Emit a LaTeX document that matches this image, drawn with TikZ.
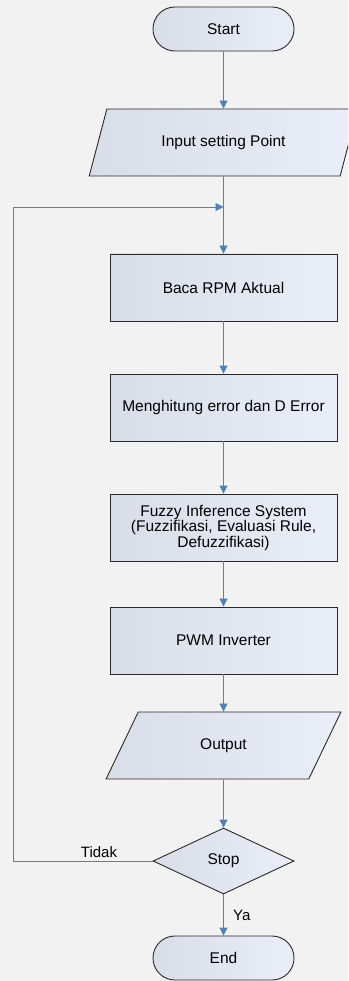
\documentclass[tikz,border=0pt]{standalone}
\usepackage{fontspec}
\setmainfont{Liberation Sans}
\usetikzlibrary{shapes.geometric,arrows.meta}
\definecolor{pagebg}{HTML}{F2F2F2}
\definecolor{fillL}{HTML}{D8DDE7}
\definecolor{fillR}{HTML}{E9EEF8}
\definecolor{flowblue}{HTML}{4F81BD}
\definecolor{edge}{HTML}{2A2A2A}
\tikzset{
  shapebase/.style={draw=edge, line width=0.9pt, left color=fillL, right color=fillR,
    font=\fontsize{15.5}{15.5}\selectfont, text=black, inner sep=0pt, align=center},
  terminal/.style={shapebase, rectangle, rounded corners=21.9pt, minimum width=141pt, minimum height=44pt},
  procbox/.style={shapebase, rectangle, minimum width=227pt, minimum height=67pt},
  iobox/.style={shapebase, trapezium, trapezium stretches=true, minimum height=67pt},
  decision/.style={shapebase, diamond, minimum width=141pt, minimum height=66pt},
  flow/.style={draw=flowblue, line width=0.9pt, -{Triangle[width=8pt,length=8pt]}},
  lbl/.style={font=\fontsize{15}{15}\selectfont, text=black, inner sep=0pt}
}
\begin{document}
\begin{tikzpicture}[x=1pt,y=-1pt]
\useasboundingbox (0,0) rectangle (348,981);
\clip (0,0) rectangle (348,981);
\fill[pagebg] (0,0) rectangle (348,981);

% flowchart blocks
\node[terminal] (start) at (223.5,29) {Start};
\node[iobox, trapezium left angle=57, trapezium right angle=123, minimum width=269pt] (input) at (223.5,142.5) {Input setting Point};
\node[procbox] (baca) at (223.5,287.5) {Baca RPM Aktual};
\node[procbox] (hitung) at (223.5,407.5) {Menghitung error dan D Error};
\node[procbox] (fis) at (223.5,527.5) {Fuzzy Inference System\\(Fuzzifikasi, Evaluasi Rule,\\Defuzzifikasi)};
\node[procbox] (pwm) at (223.5,640.5) {PWM Inverter};
\node[iobox, trapezium left angle=58, trapezium right angle=122, minimum width=235pt] (output) at (223.5,745.5) {Output};
\node[decision] (stop) at (223.5,861) {Stop};
\node[terminal] (end) at (223.5,958) {End};

% loop-back junction and corners
\coordinate (join) at (223.5,207);
\coordinate (cornerB) at (13,861);
\coordinate (cornerT) at (13,207);

% connectors
\draw[flow] (start) -- (input);
\draw[flow] (input) -- (baca);
\draw[flow] (baca) -- (hitung);
\draw[flow] (hitung) -- (fis);
\draw[flow] (fis) -- (pwm);
\draw[flow] (pwm) -- (output);
\draw[flow] (output) -- (stop);
\draw[flow] (stop) -- (end);
\draw[flow] (stop.west) -- (cornerB) -- (cornerT) -- (join);

% branch labels
\node[lbl, anchor=base] (tidak) at (99,857) {Tidak};
\node[lbl, anchor=base west] (ya) at (233,920) {Ya};
\end{tikzpicture}
\end{document}
